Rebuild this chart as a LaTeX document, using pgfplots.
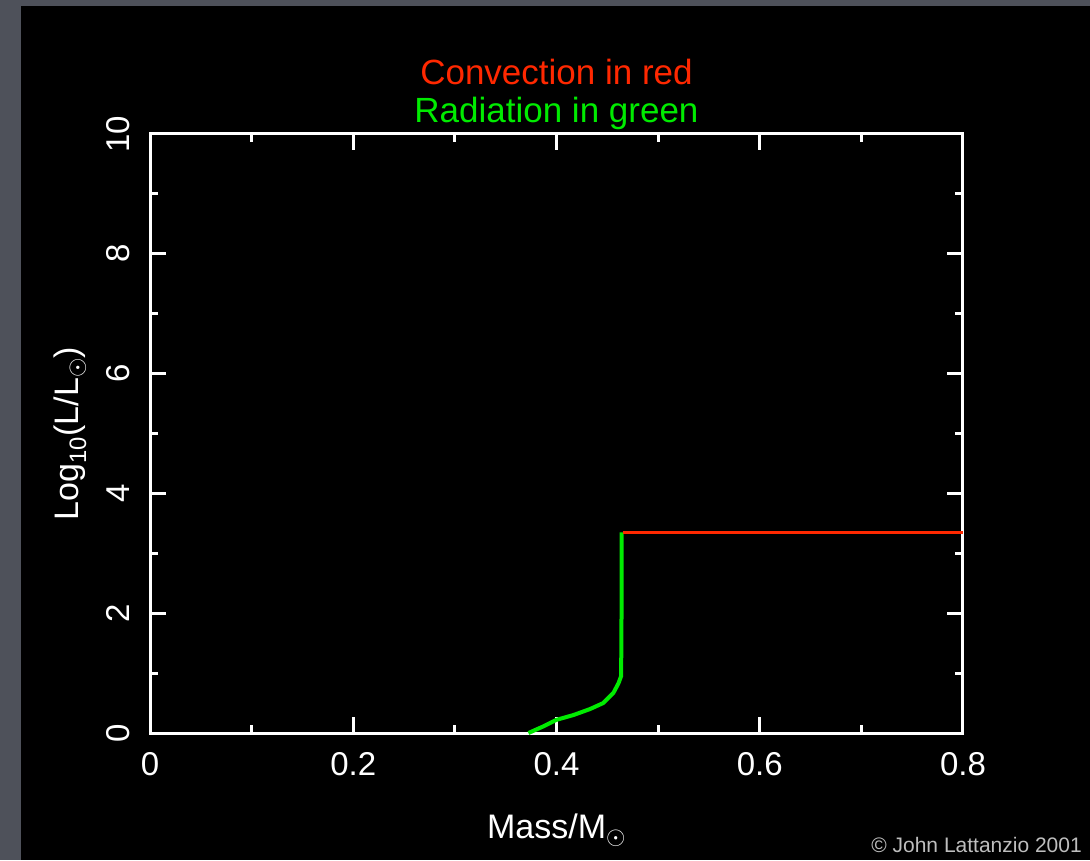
\documentclass[border=0pt]{standalone}
\usepackage{pgfplots}
\pgfplotsset{compat=1.18}
\usepackage{fontspec}
\setmainfont{Liberation Sans}
\definecolor{bggrey}{RGB}{78,81,90}
\definecolor{cred}{RGB}{255,40,0}
\definecolor{cgreen}{RGB}{0,235,0}
\definecolor{cgrey}{RGB}{190,190,190}
\begin{document}
\begin{tikzpicture}[x=1pt,y=1pt]
\fill[bggrey] (0,0) rectangle (1090,860);
\fill[black] (21,0) rectangle (1090,854);
\begin{axis}[
  at={(150pt,127pt)}, anchor=south west,
  scale only axis, width=813pt, height=599pt,
  xmin=0, xmax=0.8, ymin=0, ymax=10,
  xtick={0,0.2,0.4,0.6,0.8}, ytick={0,2,4,6,8,10},
  minor x tick num=1, minor y tick num=1,
  tick align=inside, tick pos=both,
  major tick length=16pt, minor tick length=8pt,
  axis line style={white, line width=3pt},
  every tick/.style={white, line width=3pt},
  every minor tick/.style={white, line width=3pt},
  /pgf/number format/assume math mode=true,
  xticklabel style={font=\fontsize{33}{38}\selectfont, text=white, anchor=north, inner sep=0pt},
  xticklabel shift=19pt,
  yticklabel style={font=\fontsize{33}{38}\selectfont, text=white, rotate=90, anchor=south, inner sep=0pt},
  yticklabel shift=20pt,
  xlabel={Mass/M$_\odot$},
  ylabel={Log\textsubscript{10}(L/L$_\odot$)},
  every axis x label/.style={at={(axis description cs:0.5,-0.162)}, anchor=center, font=\fontsize{34}{40}\selectfont, text=white},
  every axis y label/.style={at={(axis description cs:-0.0984,0.5)}, anchor=center, rotate=90, font=\fontsize{34}{40}\selectfont, text=white},
  clip=false,
]
\addplot[cgreen, line width=4pt, line join=round] coordinates {
  (0.3724,0) (0.387,0.11) (0.400,0.22) (0.4167,0.30) (0.433,0.40)
  (0.446,0.50) (0.456,0.67) (0.461,0.83) (0.4636,0.95) (0.464,2.0) (0.464,3.35)
};
\addplot[cred, line width=3pt] coordinates {
  (0.465,3.35) (0.8,3.35)
};
\node[text=cred, font=\fontsize{35}{40}\selectfont] at (axis description cs:0.5,1.1035) {Convection in red};
\node[text=cgreen, font=\fontsize{35}{40}\selectfont] at (axis description cs:0.5,1.034) {Radiation in green};
\end{axis}
\node[anchor=east, text=cgrey, font=\fontsize{21}{24}\selectfont, inner sep=0pt] at (1082,15) {\textcopyright{} John Lattanzio 2001};
\end{tikzpicture}
\end{document}
